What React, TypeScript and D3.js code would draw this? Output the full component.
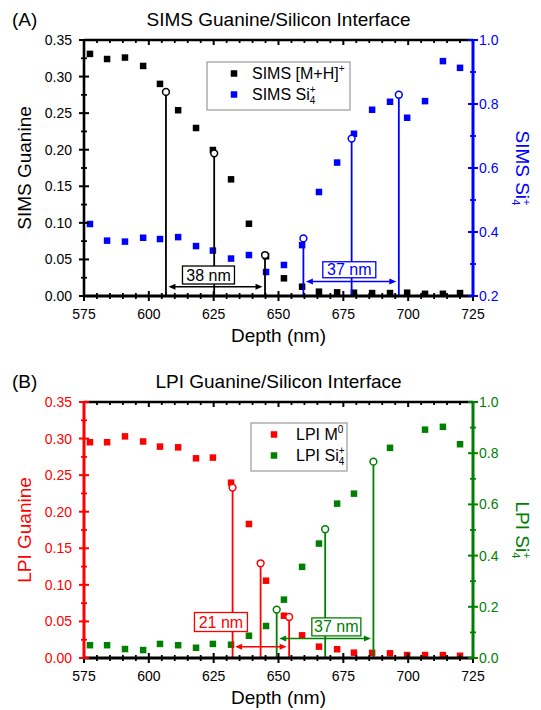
import React from 'react';
import * as d3 from 'd3';

// ---------- data ----------
const depths = [577.3, 583.9, 590.8, 597.8, 604.3, 611.3, 618.2, 624.7, 631.7, 638.6, 645.2, 652.1, 659.1, 665.6, 672.6, 679.1, 686.1, 693.0, 699.6, 706.5, 713.4, 720.0];

const simsMH = [0.331, 0.324, 0.326, 0.3145, 0.290, 0.254, 0.2297, 0.1996, 0.1595, 0.0988, 0.0543, 0.0242, 0.0127, 0.0059, 0.005, 0.0045, 0.004, 0.004, 0.0045, 0.003, 0.003, 0.004];
const simsSi = [0.425, 0.373, 0.37, 0.382, 0.378, 0.384, 0.356, 0.342, 0.317, 0.328, 0.275, 0.297, 0.359, 0.525, 0.617, 0.707, 0.782, 0.807, 0.757, 0.809, 0.934, 0.913];

const lpiM = [0.295, 0.295, 0.303, 0.296, 0.289, 0.288, 0.273, 0.274, 0.2397, 0.1832, 0.1057, 0.0578, 0.031, 0.0155, 0.012, 0.0073, 0.007, 0.0064, 0.004, 0.004, 0.004, 0.003];
const lpiSi: (number | null)[] = [0.05, 0.05, 0.035, 0.031, 0.055, 0.05, 0.04, 0.055, 0.052, 0.087, 0.125, 0.228, 0.356, 0.447, 0.603, 0.642, null, 0.821, null, 0.892, 0.903, 0.835];

// interface markers (open circles with drop lines)
const simsMHStemDepths = [606.6, 625.2, 644.8];
const simsMHStemVals = [0.279, 0.195, 0.056];
const simsSiStemDepths = [659.6, 678.2, 696.4];
const simsSiStemVals = [0.38, 0.692, 0.829];
const lpiMStemDepths = [632.3, 643.1, 654.1];
const lpiMStemVals = [0.233, 0.1295, 0.0561];
const lpiSiStemDepths = [649.3, 668.0, 686.6];
const lpiSiStemVals = [0.189, 0.503, 0.767];

// ticks
const xTicks = [575, 600, 625, 650, 675, 700, 725];
const leftTicks = [0, 0.05, 0.1, 0.15, 0.2, 0.25, 0.3, 0.35];
const rightTicksA = [0.2, 0.4, 0.6, 0.8, 1.0];
const rightTicksB = [0, 0.2, 0.4, 0.6, 0.8, 1.0];

// ---------- layout ----------
const W = 541, H = 710;
const X0 = 84, X1 = 473;
const FONT = '"Liberation Sans", Arial, Helvetica, sans-serif';
const BLUE = '#0000ff', RED = '#ff0000', GREEN = '#008000', BLACK = '#000000';

type Ann = { text: string; from: number; to: number; arrowVal: number; boxDepth: number; boxVal: number; axis: 'L' | 'R'; color: string; boxW: number; boxH: number };
type Stem = { depths: number[]; vals: number[]; axis: 'L' | 'R'; color: string };

function SupSub({ sup, sub, size = 10, supW = 5.8 }: { sup: string; sub?: string; size?: number; supW?: number }) {
  return (
    <>
      <tspan dy={-7} fontSize={size}>{sup}</tspan>
      {sub ? <tspan dx={-supW} dy={11} fontSize={size}>{sub}</tspan> : null}
    </>
  );
}

function Panel(props: {
  top: number; bottom: number; tag: string; title: string;
  leftColor: string; rightColor: string;
  leftLabel: string; rightLabel: React.ReactNode;
  rightDomain: [number, number]; rightTicks: number[]; rightFmt: (v: number) => string;
  leftSeries: (number | null)[]; rightSeries: (number | null)[];
  leftSeriesColor: string; rightSeriesColor: string;
  stems: Stem[]; anns: Ann[];
  legend: { x: number; y: number; w: number; h: number; sqDx: number; txDx: number; rows: { color: string; label: React.ReactNode }[] };
}) {
  const { top, bottom } = props;
  const x = d3.scaleLinear().domain([575, 725]).range([X0, X1]);
  const yL = d3.scaleLinear().domain([0, 0.35]).range([bottom, top]);
  const yR = d3.scaleLinear().domain(props.rightDomain).range([bottom, top]);
  const xMinor = d3.range(575, 726, 5).filter((v) => v % 25 !== 0);
  const lMinor = d3.range(0.025, 0.35, 0.05);
  const rMinor = d3.range(props.rightDomain[0] + 0.1, props.rightDomain[1], 0.2);
  const sq = 6.5;
  const midY = (top + bottom) / 2;
  const midX = (X0 + X1) / 2;

  return (
    <g fontFamily={FONT}>
      <text x={12} y={top - 14} fontSize={19}>{props.tag}</text>
      <text x={midX} y={top - 14} fontSize={19} textAnchor="middle">{props.title}</text>

      {/* series squares */}
      {props.leftSeries.map((v, i) => v == null ? null : (
        <rect key={'l' + i} x={x(depths[i]) - sq / 2} y={yL(v) - sq / 2} width={sq} height={sq} fill={props.leftSeriesColor} />
      ))}
      {props.rightSeries.map((v, i) => v == null ? null : (
        <rect key={'r' + i} x={x(depths[i]) - sq / 2} y={yR(v) - sq / 2} width={sq} height={sq} fill={props.rightSeriesColor} />
      ))}

      {/* stems */}
      {props.stems.map((s, si) => s.depths.map((d, i) => {
        const ys = s.axis === 'L' ? yL(s.vals[i]) : yR(s.vals[i]);
        return <line key={'s' + si + i} x1={x(d)} x2={x(d)} y1={ys} y2={bottom} stroke={s.color} strokeWidth={1.8} />;
      }))}

      {/* annotation arrows */}
      {props.anns.map((a, ai) => {
        const ya = a.axis === 'L' ? yL(a.arrowVal) : yR(a.arrowVal);
        const yb = a.axis === 'L' ? yL(a.boxVal) : yR(a.boxVal);
        const xa = x(a.from) + 2.5, xb = x(a.to) - 2.5;
        const xc = x(a.boxDepth);
        return (
          <g key={'a' + ai}>
            <line x1={xa + 4} x2={xb - 4} y1={ya} y2={ya} stroke={a.color} strokeWidth={1.5} />
            <path d={`M${xa},${ya}L${xa + 7},${ya - 3}L${xa + 7},${ya + 3}Z`} fill={a.color} />
            <path d={`M${xb},${ya}L${xb - 7},${ya - 3}L${xb - 7},${ya + 3}Z`} fill={a.color} />
            <rect x={xc - a.boxW / 2} y={yb - a.boxH / 2} width={a.boxW} height={a.boxH} fill="#fff" stroke={a.color} strokeWidth={1.3} />
            <text x={xc} y={yb + 5.5} textAnchor="middle" fontSize={16} fill={a.color}>{a.text}</text>
          </g>
        );
      })}

      {/* circles */}
      {props.stems.map((s, si) => s.depths.map((d, i) => {
        const ys = s.axis === 'L' ? yL(s.vals[i]) : yR(s.vals[i]);
        return <circle key={'c' + si + i} cx={x(d)} cy={ys} r={3.4} fill="#fff" stroke={s.color} strokeWidth={1.5} />;
      }))}

      {/* axes: top and bottom */}
      <line x1={X0} x2={X1} y1={top} y2={top} stroke={BLACK} strokeWidth={2.5} />
      <line x1={X0} x2={X1} y1={bottom} y2={bottom} stroke={BLACK} strokeWidth={2.8} />
      {xTicks.map((t) => (
        <g key={'xt' + t}>
          <line x1={x(t)} x2={x(t)} y1={bottom - 5} y2={bottom + 5} stroke={BLACK} strokeWidth={2} />
          <line x1={x(t)} x2={x(t)} y1={top} y2={top + 5} stroke={BLACK} strokeWidth={2} />
          <text x={x(t)} y={bottom + 23} fontSize={14} textAnchor="middle">{t}</text>
        </g>
      ))}
      {xMinor.map((t) => (
        <g key={'xm' + t}>
          <line x1={x(t)} x2={x(t)} y1={bottom - 3} y2={bottom + 3} stroke={BLACK} strokeWidth={1.8} />
          <line x1={x(t)} x2={x(t)} y1={top} y2={top + 3} stroke={BLACK} strokeWidth={1.8} />
        </g>
      ))}
      <text x={midX} y={bottom + 46} fontSize={19} textAnchor="middle">Depth (nm)</text>

      {/* left axis */}
      <line x1={X0} x2={X0} y1={top - 1} y2={bottom + 1} stroke={props.leftColor} strokeWidth={props.leftColor === BLACK ? 2.6 : 3} />
      {leftTicks.map((t) => (
        <g key={'lt' + t}>
          <line x1={X0 - 5} x2={X0 + 5} y1={yL(t)} y2={yL(t)} stroke={props.leftColor} strokeWidth={2} />
          <text x={X0 - 12} y={yL(t) + 5} fontSize={14} textAnchor="end" fill={props.leftColor}>{t.toFixed(2)}</text>
        </g>
      ))}
      {lMinor.map((t) => (
        <line key={'lm' + t} x1={X0 - 3} x2={X0 + 3} y1={yL(t)} y2={yL(t)} stroke={props.leftColor} strokeWidth={1.8} />
      ))}
      <text transform={`translate(31,${midY}) rotate(-90)`} fontSize={19} textAnchor="middle" fill={props.leftColor}>{props.leftLabel}</text>

      {/* right axis */}
      <line x1={X1} x2={X1} y1={top - 1} y2={bottom + 1} stroke={props.rightColor} strokeWidth={3} />
      {props.rightTicks.map((t) => (
        <g key={'rt' + t}>
          <line x1={X1 - 5} x2={X1 + 5} y1={yR(t)} y2={yR(t)} stroke={props.rightColor} strokeWidth={2} />
          <text x={X1 + 6} y={yR(t) + 5} fontSize={14} fill={props.rightColor}>{props.rightFmt(t)}</text>
        </g>
      ))}
      {rMinor.map((t) => (
        <line key={'rm' + t} x1={X1 - 3} x2={X1 + 3} y1={yR(t)} y2={yR(t)} stroke={props.rightColor} strokeWidth={1.8} />
      ))}
      <text transform={`translate(516,${midY}) rotate(90)`} fontSize={19} textAnchor="middle" fill={props.rightColor}>{props.rightLabel}</text>

      {/* legend */}
      <rect x={props.legend.x} y={props.legend.y} width={props.legend.w} height={props.legend.h} fill="#fff" stroke="#999" strokeWidth={1.2} />
      {props.legend.rows.map((r, i) => {
        const cy = props.legend.y + 11.5 + i * 21;
        return (
          <g key={'lg' + i}>
            <rect x={props.legend.x + props.legend.sqDx - sq / 2} y={cy - sq / 2} width={sq} height={sq} fill={r.color} />
            <text x={props.legend.x + props.legend.txDx} y={cy + 5.8} fontSize={16}>{r.label}</text>
          </g>
        );
      })}
    </g>
  );
}

export default function App() {
  const fmt1 = (v: number) => v.toFixed(1);
  return (
    <div style={{ position: 'fixed', left: 0, top: 0, width: W, height: H, background: '#fff' }}>
      <svg width={W} height={H} viewBox={`0 0 ${W} ${H}`} style={{ display: 'block' }}>
        <rect width={W} height={H} fill="#fff" />
        <Panel
          top={40} bottom={296} tag="(A)" title="SIMS Guanine/Silicon Interface"
          leftColor={BLACK} rightColor={BLUE}
          leftLabel="SIMS Guanine"
          rightLabel={<>SIMS Si<SupSub sup="+" sub="4" size={11} supW={6.4} /></>}
          rightDomain={[0.2, 1.0]} rightTicks={rightTicksA} rightFmt={fmt1}
          leftSeries={simsMH} rightSeries={simsSi}
          leftSeriesColor={BLACK} rightSeriesColor={BLUE}
          stems={[
            { depths: simsMHStemDepths, vals: simsMHStemVals, axis: 'L', color: BLACK },
            { depths: simsSiStemDepths, vals: simsSiStemVals, axis: 'R', color: BLUE },
          ]}
          anns={[
            { text: '38 nm', from: 606.6, to: 644.8, arrowVal: 0.0127, boxDepth: 623.0, boxVal: 0.0287, axis: 'L', color: BLACK, boxW: 52, boxH: 18 },
            { text: '37 nm', from: 659.6, to: 696.4, arrowVal: 0.245, boxDepth: 677.3, boxVal: 0.282, axis: 'R', color: BLUE, boxW: 53, boxH: 16 },
          ]}
          legend={{
            x: 207, y: 62, w: 143, h: 48, sqDx: 27, txDx: 45,
            rows: [
              { color: BLACK, label: <>SIMS [M+H]<tspan dy={-7} fontSize={10}>+</tspan></> },
              { color: BLUE, label: <>SIMS Si<SupSub sup="+" sub="4" size={10} supW={5.8} /></> },
            ],
          }}
        />
        <Panel
          top={402} bottom={658} tag="(B)" title="LPI Guanine/Silicon Interface"
          leftColor={RED} rightColor={GREEN}
          leftLabel="LPI Guanine"
          rightLabel={<>LPI Si<SupSub sup="+" sub="4" size={11} supW={6.4} /></>}
          rightDomain={[0, 1.0]} rightTicks={rightTicksB} rightFmt={fmt1}
          leftSeries={lpiM} rightSeries={lpiSi}
          leftSeriesColor={RED} rightSeriesColor={GREEN}
          stems={[
            { depths: lpiMStemDepths, vals: lpiMStemVals, axis: 'L', color: RED },
            { depths: lpiSiStemDepths, vals: lpiSiStemVals, axis: 'R', color: GREEN },
          ]}
          anns={[
            { text: '21 nm', from: 632.3, to: 654.1, arrowVal: 0.0155, boxDepth: 627.8, boxVal: 0.0492, axis: 'L', color: RED, boxW: 53, boxH: 19 },
            { text: '37 nm', from: 649.3, to: 686.6, arrowVal: 0.076, boxDepth: 672.3, boxVal: 0.1215, axis: 'R', color: GREEN, boxW: 49, boxH: 18 },
          ]}
          legend={{
            x: 251, y: 423, w: 96, h: 48, sqDx: 23, txDx: 45,
            rows: [
              { color: RED, label: <>LPI M<tspan dy={-7} fontSize={10}>0</tspan></> },
              { color: GREEN, label: <>LPI Si<SupSub sup="+" sub="4" size={10} supW={5.8} /></> },
            ],
          }}
        />
      </svg>
    </div>
  );
}
